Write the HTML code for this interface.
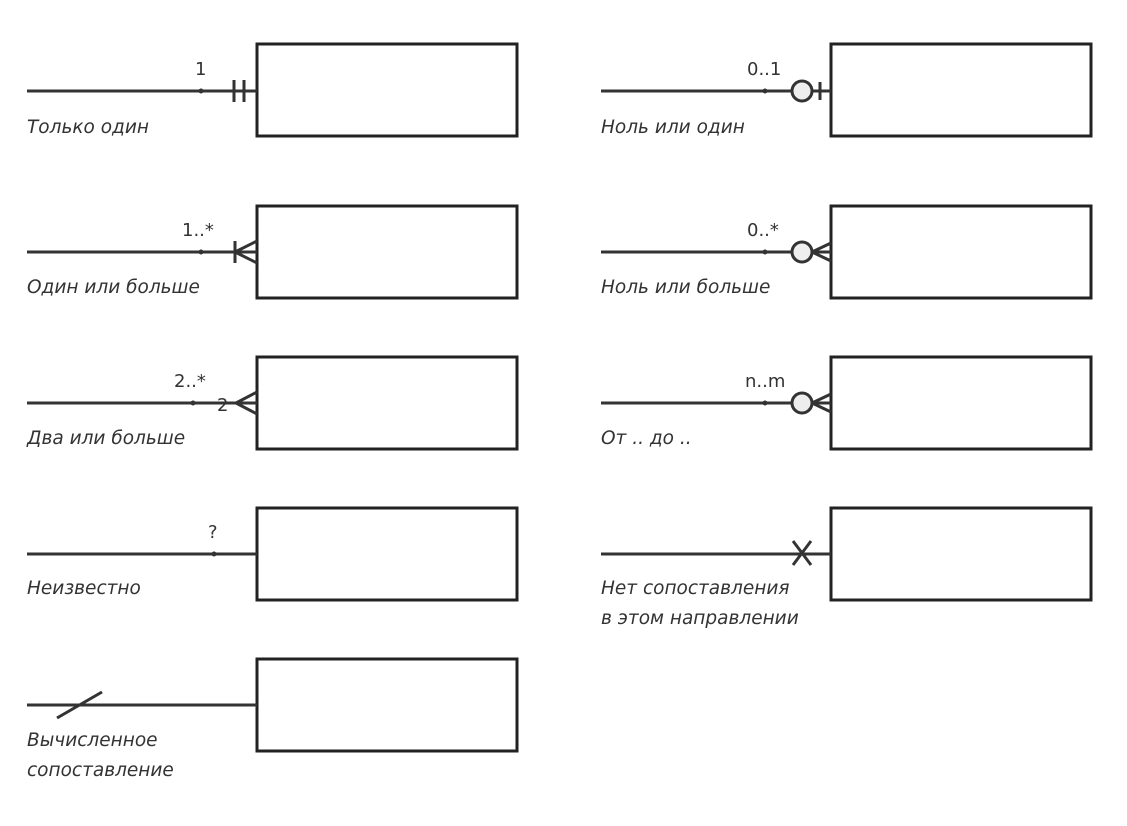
<!DOCTYPE html>
<html><head><meta charset="utf-8"><style>
body{margin:0;background:#fff;}
svg{display:block}
text{font-family:"DejaVu Sans","Liberation Sans",sans-serif;fill:#333;}
.l{font-style:italic;font-size:18.5px;}
.c{font-size:18px;}
</style></head><body>
<svg width="1127" height="826" viewBox="0 0 1127 826">
<g fill="none" stroke="#222" stroke-width="3">
<rect x="257" y="44" width="260" height="92"/>
<rect x="257" y="206" width="260" height="92"/>
<rect x="257" y="357" width="260" height="92"/>
<rect x="257" y="508" width="260" height="92"/>
<rect x="257" y="659" width="260" height="92"/>
<rect x="831" y="44" width="260" height="92"/>
<rect x="831" y="206" width="260" height="92"/>
<rect x="831" y="357" width="260" height="92"/>
<rect x="831" y="508" width="260" height="92"/>
</g>
<g stroke="#333" stroke-width="3" fill="none">
<line x1="27" y1="91" x2="257" y2="91"/>
<line x1="27" y1="252" x2="257" y2="252"/>
<line x1="27" y1="403" x2="257" y2="403"/>
<line x1="27" y1="554" x2="257" y2="554"/>
<line x1="27" y1="705" x2="257" y2="705"/>
<line x1="601" y1="91" x2="792" y2="91"/>
<line x1="812" y1="91" x2="831" y2="91"/>
<line x1="601" y1="252" x2="792" y2="252"/>
<line x1="601" y1="403" x2="792" y2="403"/>
<line x1="601" y1="554" x2="831" y2="554"/>
<line x1="234" y1="80" x2="234" y2="102"/>
<line x1="244" y1="80" x2="244" y2="102"/>
<line x1="235" y1="241" x2="235" y2="263"/>
<line x1="235" y1="252" x2="257" y2="241"/>
<line x1="235" y1="252" x2="257" y2="263"/>
<line x1="236" y1="403" x2="257" y2="392"/>
<line x1="236" y1="403" x2="257" y2="414"/>
<line x1="820" y1="82" x2="820" y2="100"/>
<line x1="812" y1="252" x2="831" y2="252"/>
<line x1="812" y1="252" x2="831" y2="243"/>
<line x1="812" y1="252" x2="831" y2="261"/>
<line x1="812" y1="403" x2="831" y2="403"/>
<line x1="812" y1="403" x2="831" y2="394"/>
<line x1="812" y1="403" x2="831" y2="412"/>
<line x1="793" y1="541" x2="811" y2="565"/>
<line x1="811" y1="541" x2="793" y2="565"/>
<line x1="57" y1="718" x2="102" y2="692"/>
</g>
<g fill="#eee" stroke="#333" stroke-width="3">
<circle cx="802" cy="91" r="10"/>
<circle cx="802" cy="252" r="10"/>
<circle cx="802" cy="403" r="10"/>
</g>
<g fill="#333">
<circle cx="201" cy="91" r="2.5"/>
<circle cx="201" cy="252" r="2.5"/>
<circle cx="193" cy="403" r="2.5"/>
<circle cx="214" cy="554" r="2.5"/>
<circle cx="765" cy="91" r="2.5"/>
<circle cx="765" cy="252" r="2.5"/>
<circle cx="765" cy="403" r="2.5"/>
</g>
<text class="c" x="195" y="75">1</text>
<text class="c" x="182" y="236">1..*</text>
<text class="c" x="174" y="387">2..*</text>
<text class="c" x="217" y="411">2</text>
<text class="c" x="208" y="538">?</text>
<text class="c" x="747" y="75">0..1</text>
<text class="c" x="747" y="236">0..*</text>
<text class="c" x="745" y="387">n..m</text>
<text class="l" x="27" y="133">Только один</text>
<text class="l" x="27" y="293">Один или больше</text>
<text class="l" x="27" y="444">Два или больше</text>
<text class="l" x="27" y="594">Неизвестно</text>
<text class="l" x="27" y="746">Вычисленное</text>
<text class="l" x="27" y="776">сопоставление</text>
<text class="l" x="601" y="133">Ноль или один</text>
<text class="l" x="601" y="293">Ноль или больше</text>
<text class="l" x="601" y="444">От .. до ..</text>
<text class="l" x="601" y="594">Нет сопоставления</text>
<text class="l" x="601" y="624">в этом направлении</text>
</svg>
</body></html>
